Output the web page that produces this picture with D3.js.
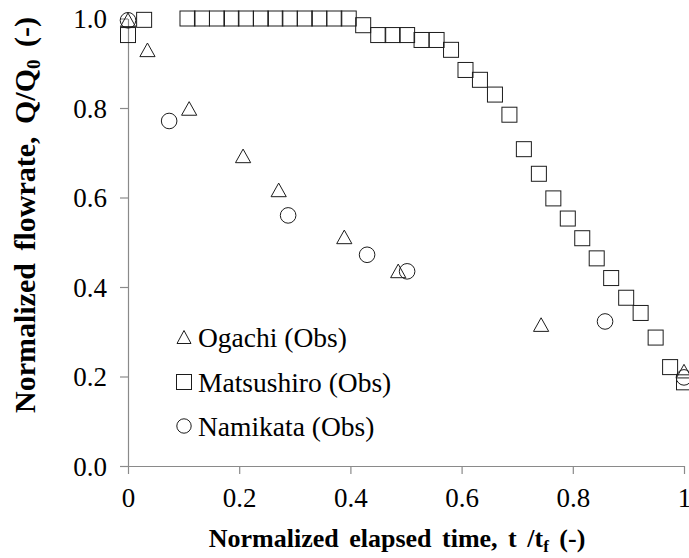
<!DOCTYPE html>
<html>
<head>
<meta charset="utf-8">
<script src="https://cdn.jsdelivr.net/npm/d3@7"></script>
<style>
  html, body { margin: 0; padding: 0; background: #fff; }
  svg { display: block; }
  svg text { font-family: "Liberation Serif", serif; }
</style>
</head>
<body>
<svg id="chart" width="689" height="558"></svg>
<script>
// Normalized elapsed time t/tf and normalized flowrate Q/Q0 for each site
const ogachiT = [0.000, 0.035, 0.110, 0.207, 0.271, 0.389, 0.486, 0.743, 1.000];
const ogachiQ = [0.997, 0.930, 0.799, 0.693, 0.617, 0.512, 0.436, 0.316, 0.212];

const matsushiroT = [0.000, 0.029, 0.107, 0.133, 0.160, 0.186, 0.212, 0.239, 0.265, 0.291,
                     0.318, 0.344, 0.371, 0.397, 0.423, 0.450, 0.476, 0.502, 0.528, 0.555,
                     0.581, 0.607, 0.633, 0.660, 0.686, 0.712, 0.739, 0.765, 0.791, 0.817,
                     0.843, 0.869, 0.896, 0.922, 0.949, 0.975, 1.000];
const matsushiroQ = [0.963, 0.997, 1.000, 1.000, 1.000, 1.000, 1.000, 1.000, 1.000, 1.000,
                     1.000, 1.000, 1.000, 1.000, 0.985, 0.963, 0.963, 0.963, 0.952, 0.952,
                     0.930, 0.885, 0.863, 0.830, 0.785, 0.708, 0.653, 0.598, 0.553, 0.509,
                     0.464, 0.420, 0.376, 0.342, 0.287, 0.221, 0.187];

const namikataT = [0.000, 0.074, 0.288, 0.430, 0.502, 0.858, 1.000];
const namikataQ = [0.996, 0.771, 0.560, 0.472, 0.435, 0.323, 0.198];

const xTicks = [0, 0.2, 0.4, 0.6, 0.8, 1];
const yTicks = [0, 0.2, 0.4, 0.6, 0.8, 1.0];
const seriesNames = ["Ogachi (Obs)", "Matsushiro (Obs)", "Namikata (Obs)"];

const svg = d3.select("#chart");
const fontFamily = "Liberation Serif";
const axisColor = "#8a8a8a";
const markStroke = "#1c1c1c";

const x = d3.scaleLinear().domain([0, 1]).range([128, 684]);
const y = d3.scaleLinear().domain([0, 1]).range([466, 18.5]);

// Axes
const xAxis = d3.axisBottom(x).tickValues(xTicks).tickSize(8).tickSizeOuter(0)
  .tickFormat(d => d === 0 ? "0" : d === 1 ? "1" : d3.format(".1f")(d));
const yAxis = d3.axisLeft(y).tickValues(yTicks).tickSize(8).tickSizeOuter(0)
  .tickFormat(d3.format(".1f"));

const gx = svg.append("g").attr("transform", `translate(0,${y(0)})`).call(xAxis);
const gy = svg.append("g").attr("transform", `translate(${x(0)},0)`).call(yAxis);

[gx, gy].forEach(g => {
  g.attr("font-family", fontFamily).attr("font-size", 27);
  g.select(".domain").attr("stroke", axisColor).attr("stroke-width", 1.2);
  g.selectAll(".tick line").attr("stroke", axisColor).attr("stroke-width", 1.2);
  g.selectAll(".tick text").attr("fill", "#000");
});
gx.selectAll(".tick text").attr("y", 22).attr("dy", "0.71em");
gy.selectAll(".tick text").attr("x", -21).attr("dy", "0.35em");

// Marker shapes
const half = 7.5;
function drawSquares(g, xs, ys) {
  g.selectAll("rect").data(xs).join("rect")
    .attr("x", d => x(d) - half)
    .attr("y", (d, i) => y(ys[i]) - half)
    .attr("width", half * 2).attr("height", half * 2)
    .attr("fill", "none").attr("stroke", markStroke).attr("stroke-width", 1);
}
const triPath = "M0,-6.8L7.6,6.8L-7.6,6.8Z";
function drawTriangles(g, xs, ys, path) {
  g.selectAll("path").data(xs).join("path")
    .attr("d", path)
    .attr("transform", (d, i) => `translate(${x(d)},${y(ys[i])})`)
    .attr("fill", "none").attr("stroke", markStroke).attr("stroke-width", 1);
}
function drawCircles(g, xs, ys, r) {
  g.selectAll("circle").data(xs).join("circle")
    .attr("cx", d => x(d))
    .attr("cy", (d, i) => y(ys[i]))
    .attr("r", r)
    .attr("fill", "none").attr("stroke", markStroke).attr("stroke-width", 1);
}

drawSquares(svg.append("g"), matsushiroT, matsushiroQ);
drawTriangles(svg.append("g"), ogachiT, ogachiQ, triPath);
drawCircles(svg.append("g"), namikataT, namikataQ, 7.8);

// Legend
const legend = svg.append("g");
const legendRows = [347, 392, 436];
const lx = 184;
legend.append("path").attr("d", "M0,-6.5L7,6.5L-7,6.5Z")
  .attr("transform", `translate(${lx},${legendRows[0] - 10})`)
  .attr("fill", "none").attr("stroke", markStroke).attr("stroke-width", 1);
legend.append("rect").attr("x", lx - 7.5).attr("y", legendRows[1] - 10 - 7.5)
  .attr("width", 15).attr("height", 15)
  .attr("fill", "none").attr("stroke", markStroke).attr("stroke-width", 1);
legend.append("circle").attr("cx", lx).attr("cy", legendRows[2] - 10).attr("r", 7.2)
  .attr("fill", "none").attr("stroke", markStroke).attr("stroke-width", 1);
legend.selectAll("text").data(seriesNames).join("text")
  .attr("x", 198).attr("y", (d, i) => legendRows[i])
  .attr("font-family", fontFamily).attr("font-size", 27.5)
  .attr("fill", "#000")
  .text(d => d);

// Axis titles
const xt = svg.append("text")
  .attr("x", 397).attr("y", 547)
  .attr("text-anchor", "middle")
  .attr("font-family", fontFamily).attr("font-size", 26).attr("font-weight", "bold")
  .style("word-spacing", "4px");
xt.append("tspan").text("Normalized elapsed time, t /t");
xt.append("tspan").attr("dy", 5).attr("font-size", 17).text("f");
xt.append("tspan").attr("dy", -5).text(" (-)");

const yt = svg.append("text")
  .attr("transform", "translate(35,215) rotate(-90)")
  .attr("text-anchor", "middle")
  .attr("font-family", fontFamily).attr("font-size", 30).attr("font-weight", "bold")
  .style("word-spacing", "5px");
yt.append("tspan").text("Normalized flowrate, Q/Q");
yt.append("tspan").attr("dy", 5).attr("font-size", 19).text("0");
yt.append("tspan").attr("dy", -5).text(" (-)");
</script>
</body>
</html>
